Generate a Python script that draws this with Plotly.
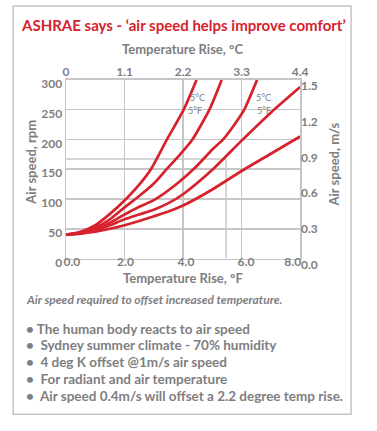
import plotly.graph_objects as go

W, H = 377, 431

# ---- data ----
temp_f_ticks = [0, 2, 4, 6, 8]
temp_f_labels = ["0.0", "2.0", "4.0", "6.0", "8.0"]
temp_c_labels = ["0", "1.1", "2.2", "3.3", "4.4"]
rpm_ticks = [0, 50, 100, 150, 200, 250, 300]
ms_ticks = [0, 0.3, 0.6, 0.9, 1.2, 1.5]
ms_labels = ["0.0", "0.3", "0.6", "0.9", "1.2", "1.5"]

curve1_x = [0, 0.5, 1, 1.5, 2.05, 2.5, 2.9, 3.45, 4.02, 4.46]
curve1_y = [40, 45, 56, 75, 100, 124, 150, 200, 250, 300]
curve2_x = [0, 0.5, 1, 1.5, 2, 2.5, 3, 3.4, 3.9, 4.32, 4.9, 5.32]
curve2_y = [40, 44, 52, 66, 86, 105, 126, 148, 175, 200, 250, 300]
curve3_x = [0, 0.5, 1, 1.5, 2, 2.5, 3, 3.8, 4.4, 5.0, 5.37, 5.8, 6.09, 6.53]
curve3_y = [40, 43, 49, 60, 74, 87, 98, 126, 152, 183, 200, 228, 250, 300]
curve4_x = [0, 0.5, 1, 1.5, 2, 2.5, 3, 3.5, 4, 5, 6, 7, 8]
curve4_y = [40, 42, 47, 56, 66, 74, 82, 93, 108, 149, 198, 245, 288]
curve5_x = [0, 0.5, 1, 1.5, 2, 2.5, 3, 3.5, 4, 5, 6, 7, 8]
curve5_y = [40, 42, 45, 50, 56, 63, 71, 79, 89, 116, 147, 176, 205]

ref_x = 5.47     # vertical reference line (°F)
ref_rpm = 167    # horizontal reference line (rpm)

label_pairs = [(4.5, 270, 4.4, 249, "5°C", "5°F"), (6.75, 270, 6.75, 249, "5°C", "5°F")]

title = "ASHRAE says - ‘air speed helps improve comfort’"
caption = "Air speed required to offset increased temperature."
bullets = [
    "• The human body reacts to air speed",
    "•  Sydney summer climate - 70% humidity",
    "•  4 deg K offset @1m/s air speed",
    "•  For radiant and air temperature",
    "•  Air speed 0.4m/s will offset a 2.2 degree temp rise.",
]

RED = "#d7222d"
GRAY = "#7e7e80"
GRID = "#c6c6c8"
FONT = "Lato"

# small horizontal nudges (in °F units) of the bottom tick labels, as in the reference
bottom_label_nudge = [0.2, 0.03, 0.1, 0.15, -0.25]

def px(x):
    return x / W

def py(y):
    return 1 - y / H

fig = go.Figure()
for xs, ys in [(curve1_x, curve1_y), (curve2_x, curve2_y), (curve3_x, curve3_y),
               (curve4_x, curve4_y), (curve5_x, curve5_y)]:
    fig.add_trace(go.Scatter(x=xs, y=ys, mode="lines", line=dict(color=RED, width=2.7, shape="spline", smoothing=0.6),
                             hoverinfo="skip", showlegend=False, cliponaxis=True))

# invisible traces so the secondary axes are drawn
fig.add_trace(go.Scatter(x=[0], y=[0], xaxis="x2", yaxis="y2", mode="markers",
                         marker=dict(opacity=0), showlegend=False, hoverinfo="skip"))
fig.add_trace(go.Scatter(x=[0], y=[0], xaxis="x3", yaxis="y", mode="markers",
                         marker=dict(opacity=0), showlegend=False, hoverinfo="skip"))

xdom = [px(65), px(306)]
ydom = [py(265), py(79)]
tickfont = dict(family=FONT, size=12, color=GRAY, weight="bold")

fig.update_layout(
    width=W, height=H, margin=dict(l=0, r=0, t=0, b=0),
    paper_bgcolor="white", plot_bgcolor="white",
    xaxis=dict(domain=xdom, range=[0, 8], tickvals=temp_f_ticks, showticklabels=False,
               showgrid=True, gridcolor=GRID, gridwidth=1.5, zeroline=False,
               showline=True, linecolor=GRID, linewidth=1.5, mirror=True, ticks=""),
    xaxis3=dict(overlaying="x", side="bottom", anchor="y", range=[0, 8],
                tickvals=[t + n for t, n in zip(temp_f_ticks, bottom_label_nudge)],
                ticktext=temp_f_labels, showgrid=False, zeroline=False, showline=False,
                ticks="", tickfont=tickfont, ticklabelstandoff=-6),
    xaxis2=dict(overlaying="x", side="top", range=[0, 8], tickvals=temp_f_ticks, ticktext=temp_c_labels,
                showgrid=False, zeroline=False, showline=False, ticks="", tickfont=tickfont, anchor="y"),
    yaxis=dict(domain=ydom, range=[0, 300], tickvals=rpm_ticks,
               showgrid=True, gridcolor=GRID, gridwidth=1.5, zeroline=False,
               showline=True, linecolor=GRID, linewidth=1.5, mirror=True,
               ticks="", tickfont=tickfont, ticklabelshift=4, ticklabelstandoff=0),
    yaxis2=dict(overlaying="y", side="right", range=[0, 1.5], tickvals=ms_ticks, ticktext=ms_labels,
                showgrid=False, zeroline=False, showline=False, ticks="", tickfont=tickfont,
                ticklabelshift=6, anchor="x"),
)

# reference lines
fig.add_shape(type="line", x0=0, x1=ref_x, y0=ref_rpm, y1=ref_rpm, xref="x", yref="y",
              line=dict(color=GRID, width=1.5), layer="below")
fig.add_shape(type="line", x0=ref_x, x1=ref_x, y0=0, y1=ref_rpm, xref="x", yref="y",
              line=dict(color=GRID, width=1.5), layer="below")

# outer border
fig.add_shape(type="rect", x0=px(10.5), x1=px(358.5), y0=py(427), y1=py(2), xref="paper", yref="paper",
              line=dict(color="#c4c4c4", width=1.5), fillcolor="rgba(0,0,0,0)")

for xc, yc, xf, yf, tc, tf in label_pairs:
    fig.add_annotation(x=xc, y=yc, text=tc, showarrow=False, xref="x", yref="y",
                       font=dict(family=FONT, size=9, color=GRAY))
    fig.add_annotation(x=xf, y=yf, text=tf, showarrow=False, xref="x", yref="y",
                       font=dict(family=FONT, size=9, color=GRAY))

def ann(text, x, y, size, color=GRAY, xanchor="center", angle=0, italic=False, weight="bold"):
    fig.add_annotation(text=text, x=px(x), y=py(y), xref="paper", yref="paper", showarrow=False,
                       xanchor=xanchor, yanchor="middle", textangle=angle,
                       font=dict(family=FONT, size=size, color=color, weight=weight,
                                 style="italic" if italic else "normal"))

ann(title, 186, 22, 15, color=RED)
ann("Temperature Rise, °C", 185, 47, 13)
ann("Temperature Rise, °F", 185, 285, 13)
ann("Air speed, rpm", 29, 165, 13, angle=-90)
ann("Air speed, m/s", 341, 167, 13, angle=-90)
ann(caption, 22, 308, 12, xanchor="left", italic=True)
for i, b in enumerate(bullets):
    ann(b, 22, 338 + i * 17.5, 13.5, xanchor="left")

post = (
    "document.documentElement.style.overflow='hidden';"
    "document.body.style.margin='0';"
    "var d=document.querySelector('.plotly-graph-div');"
    "d.style.position='fixed';d.style.left='0px';d.style.top='0px';"
)
fig.write_html("out.html", config={"displayModeBar": False, "staticPlot": True}, post_script=post)
